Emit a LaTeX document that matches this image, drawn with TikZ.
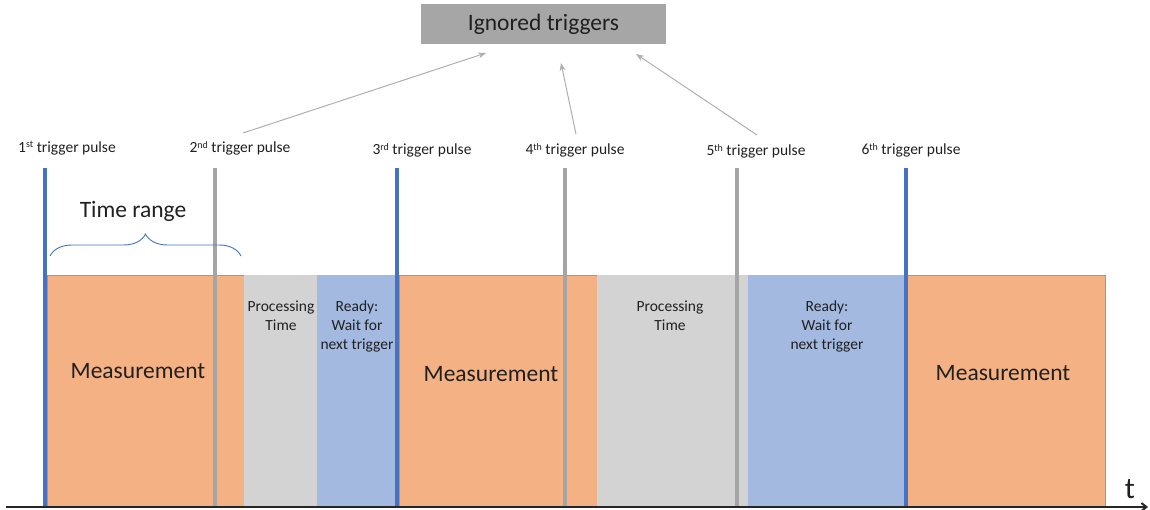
\documentclass[tikz,border=0pt]{standalone}
\usepackage{fontspec}
\setmainfont{Carlito}
\usetikzlibrary{arrows.meta,decorations.pathreplacing}
\definecolor{measfill}{HTML}{F4B183}
\definecolor{measedge}{HTML}{C9953C}
\definecolor{procfill}{HTML}{D3D3D3}
\definecolor{readyfill}{HTML}{A3B9E0}
\definecolor{trigblue}{HTML}{4472C4}
\definecolor{triggray}{HTML}{A5A5A5}
\definecolor{boxgray}{HTML}{A6A6A6}
\definecolor{txt}{HTML}{202020}
\tikzset{
  measbox/.style={fill=measfill,draw=measedge,line width=0.8pt},
  procbox/.style={fill=procfill},
  readybox/.style={fill=readyfill},
  bluetrig/.style={draw=trigblue,line width=3.6pt},
  graytrig/.style={draw=triggray,line width=3.6pt},
  biglabel/.style={font=\fontsize{23.5}{28}\selectfont,text=txt,inner sep=0pt},
  smalllabel/.style={font=\fontsize{15.5}{19}\selectfont,text=txt,inner sep=0pt,align=center},
  triglabel/.style={font=\fontsize{15.5}{19}\selectfont,text=txt,inner sep=0pt},
  ignarrow/.style={draw=boxgray!90,line width=1pt,-{Stealth[length=8pt,width=6pt]}},
}
\newcommand{\ordsup}[1]{\raisebox{0.55ex}{\fontsize{10}{12}\selectfont #1}}
\begin{document}
\begin{tikzpicture}[x=1pt,y=-1pt]
\useasboundingbox (0,0) rectangle (1150,510);
% blocks
\draw[measbox] (47,275) rectangle (244,507);
\fill[procbox] (244,275) rectangle (317,507);
\fill[readybox] (317,275) rectangle (397,507);
\draw[measbox] (399,275) rectangle (597,507);
\fill[procbox] (597,275) rectangle (748,507);
\fill[readybox] (748,275) rectangle (906,507);
\draw[measbox] (907,275) rectangle (1105,507);
% block texts
\node[biglabel] (mt1) at (138,371) {Measurement};
\node[biglabel] (mt2) at (491,374) {Measurement};
\node[biglabel] (mt3) at (1003,373) {Measurement};
\node[smalllabel] (pt1) at (281,316) {Processing\\Time};
\node[smalllabel] (rt1) at (357,326) {Ready:\\Wait for\\next trigger};
\node[smalllabel] (pt2) at (670,316) {Processing\\Time};
\node[smalllabel] (rt2) at (827,326) {Ready:\\Wait for\\next trigger};
% trigger lines
\draw[bluetrig] (45,168) -- (45,507);
\draw[graytrig] (215,168) -- (215,507);
\draw[bluetrig] (397,168) -- (397,507);
\draw[graytrig] (565,168) -- (565,507);
\draw[graytrig] (737,168) -- (737,507);
\draw[bluetrig] (906,168) -- (906,507);
% trigger labels
\node[triglabel] (l1) at (67,148) {1\ordsup{st} trigger pulse};
\node[triglabel] (l2) at (240,148) {2\ordsup{nd} trigger pulse};
\node[triglabel] (l3) at (422,150) {3\ordsup{rd} trigger pulse};
\node[triglabel] (l4) at (575,150) {4\ordsup{th} trigger pulse};
\node[triglabel] (l5) at (756,151) {5\ordsup{th} trigger pulse};
\node[triglabel] (l6) at (911,150) {6\ordsup{th} trigger pulse};
% ignored triggers box
\node[fill=boxgray,minimum width=245pt,minimum height=40pt,inner sep=0pt,
      font=\fontsize{23.5}{28}\selectfont,text=txt] (ign) at (543.5,24) {Ignored triggers};
\coordinate (a2s) at (243,133);
\coordinate (a4s) at (576,134);
\coordinate (a5s) at (757,135);
\coordinate (a2e) at (486,53);
\coordinate (a4e) at (561,63);
\coordinate (a5e) at (636,54);
\draw[ignarrow] (a2s) -- (a2e);
\draw[ignarrow] (a4s) -- (a4e);
\draw[ignarrow] (a5s) -- (a5e);
% time range
\node[biglabel] (tr) at (133,211) {Time range};
\coordinate (b1) at (50,256);
\coordinate (b2) at (241,256);
\draw[trigblue,line width=0.9pt,decorate,decoration={brace,amplitude=22pt,aspect=0.5}] (b1) -- (b2);
% axis
\coordinate (ax0) at (6,507);
\coordinate (ax1) at (1148,507);
\draw[black!85,line width=2pt,-{Straight Barb[length=5pt,width=8pt]}] (ax0) -- (ax1);
\node[font=\fontsize{30}{34}\selectfont,text=txt,inner sep=0pt] (tl) at (1130,489) {t};
\end{tikzpicture}
\end{document}
